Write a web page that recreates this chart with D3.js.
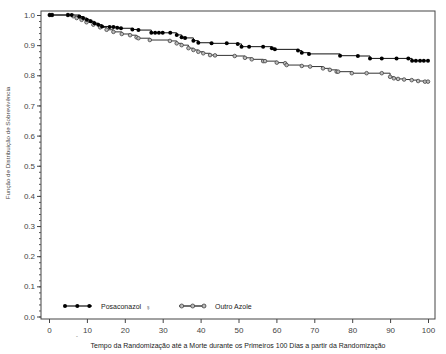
<!doctype html>
<html>
<head>
<meta charset="utf-8">
<script src="https://d3js.org/d3.v7.min.js"></script>
<style>
  body { margin: 0; background: #fff; }
  text { font-family: "Liberation Sans", Arial, sans-serif; }
</style>
</head>
<body>
<svg id="chart" width="446" height="354"></svg>
<script>
// Posaconazol: time (days) and survival at each marked point
const posaTimes = [0, 0.2, 0.8, 5, 6, 8, 9, 10, 11, 12, 13, 14, 16, 17, 18, 19, 22, 23.6, 27, 28, 29, 30, 32,
  33.7, 35, 35.9, 38.1, 39.4, 42.9, 46.9, 49.8, 50.8, 52.8, 56.5, 58.8, 59.6, 65.7, 66.7, 68.6,
  76.8, 81.5, 84.7, 87.8, 91.7, 94.8, 95.8, 96.8, 97.9, 98.9, 100];
const posaSurv = [1, 1, 1, 1, 1, 0.995, 0.99, 0.984, 0.979, 0.973, 0.968, 0.962, 0.96, 0.96, 0.958, 0.956, 0.952, 0.95, 0.941, 0.941, 0.941, 0.941, 0.941,
  0.934, 0.926, 0.924, 0.915, 0.908, 0.906, 0.906, 0.904, 0.895, 0.895, 0.895, 0.89, 0.886, 0.882, 0.875, 0.871,
  0.865, 0.864, 0.856, 0.856, 0.856, 0.856, 0.848, 0.848, 0.848, 0.848, 0.848];

// Outro Azole
const azoTimes = [0, 0.2, 0.8, 5, 6.4, 7.3, 8.6, 9.9, 11.7, 13.5, 15.2, 17, 19.2, 21.4, 23.1, 23.6, 26.6, 31.9,
  33.7, 35, 36.8, 38.1, 39.4, 40.7, 42.5, 43.8, 49, 51.7, 53.5, 56.5, 57, 60.1, 62.3, 62.7, 66.7, 68.9,
  72.3, 74.1, 75.9, 76.3, 79.9, 83.8, 87.8, 90, 91, 92.1, 93.7, 95.7, 97.4, 99.2, 100];
const azoSurv = [1, 1, 1, 1, 0.996, 0.99, 0.984, 0.976, 0.968, 0.959, 0.951, 0.944, 0.937, 0.933, 0.926, 0.923, 0.917, 0.914,
  0.906, 0.9, 0.89, 0.884, 0.878, 0.873, 0.867, 0.866, 0.864, 0.858, 0.853, 0.847, 0.847, 0.842, 0.84, 0.834, 0.831, 0.829,
  0.823, 0.818, 0.812, 0.812, 0.807, 0.807, 0.807, 0.795, 0.79, 0.788, 0.786, 0.784, 0.781, 0.779, 0.779];

const xTicks = [0, 10, 20, 30, 40, 50, 60, 70, 80, 90, 100];
const yTicks = [0, 0.1, 0.2, 0.3, 0.4, 0.5, 0.6, 0.7, 0.8, 0.9, 1.0];
const seriesNames = ["Posaconazol", "Outro Azole"];

const xLabel = "Tempo da Randomização até a Morte durante os Primeiros 100 Dias a partir da Randomização";
const yLabel = "Função de Distribuição de Sobrevivência";

const svg = d3.select("#chart");
const box = { left: 41, top: 11, right: 435, bottom: 319 };

const x = d3.scaleLinear().domain([0, 100]).range([49, 428]);
const y = d3.scaleLinear().domain([0, 1]).range([316.5, 15]);

// frame
svg.append("rect")
  .attr("x", box.left).attr("y", box.top)
  .attr("width", box.right - box.left).attr("height", box.bottom - box.top)
  .attr("fill", "none").attr("stroke", "#444").attr("stroke-width", 1);

// y axis with minor ticks
const yMinor = d3.range(0, 1.0001, 0.02);
svg.append("g").attr("transform", `translate(${box.left},0)`)
  .call(d3.axisLeft(y).tickValues(yMinor).tickSize(2).tickFormat(""))
  .call(g => g.select(".domain").remove())
  .call(g => g.selectAll("line").attr("stroke", "#555"));
svg.append("g").attr("transform", `translate(${box.left},0)`)
  .call(d3.axisLeft(y).tickValues(yTicks).tickSize(4).tickPadding(2).tickFormat(d3.format(".1f")))
  .call(g => g.select(".domain").remove())
  .call(g => g.selectAll("line").attr("stroke", "#444"))
  .call(g => g.selectAll("text").attr("font-size", 8).attr("fill", "#444")
    .attr("font-family", "Liberation Sans, Arial, sans-serif"));

// x axis
svg.append("g").attr("transform", `translate(0,${box.bottom})`)
  .call(d3.axisBottom(x).tickValues(xTicks).tickSize(4).tickPadding(4))
  .call(g => g.select(".domain").remove())
  .call(g => g.selectAll("line").attr("stroke", "#444"))
  .call(g => g.selectAll("text").attr("font-size", 8).attr("fill", "#444")
    .attr("font-family", "Liberation Sans, Arial, sans-serif"));

// labels
svg.append("text")
  .attr("transform", "translate(10,143) rotate(-90)")
  .attr("text-anchor", "middle")
  .attr("font-size", 6.2).attr("fill", "#444")
  .text(yLabel);

svg.append("text")
  .attr("x", 238).attr("y", 348)
  .attr("text-anchor", "middle")
  .attr("font-size", 7).attr("fill", "#222")
  .text(xLabel);

svg.append("text").attr("x", 76).attr("y", 340)
  .attr("font-size", 6).attr("fill", "#444").text("ˉ");

// curves
const line = d3.line().curve(d3.curveStepAfter).x(d => x(d.t)).y(d => y(d.s));
const posa = posaTimes.map((t, i) => ({ t: t, s: posaSurv[i] }));
const azo = azoTimes.map((t, i) => ({ t: t, s: azoSurv[i] }));

svg.append("path").datum(azo).attr("d", line)
  .attr("fill", "none").attr("stroke", "#333").attr("stroke-width", 1);
svg.append("path").datum(posa).attr("d", line)
  .attr("fill", "none").attr("stroke", "#111").attr("stroke-width", 1);

svg.append("g").selectAll("circle").data(azo.slice(1)).join("circle")
  .attr("cx", d => x(d.t)).attr("cy", d => y(d.s)).attr("r", 1.8)
  .attr("fill", "#bbb").attr("stroke", "#444").attr("stroke-width", 0.8);
svg.append("g").selectAll("circle").data(posa.slice(1)).join("circle")
  .attr("cx", d => x(d.t)).attr("cy", d => y(d.s)).attr("r", 2)
  .attr("fill", "#000");

// legend
const legY = 306;
const leg = [
  { name: seriesNames[0], x0: 64, x1: 92, marks: [65, 77.3, 89.3], tx: 101, filled: true },
  { name: seriesNames[1], x0: 179, x1: 206, marks: [181.7, 192.7, 204], tx: 215, filled: false }
];
leg.forEach(l => {
  svg.append("line").attr("x1", l.x0).attr("x2", l.x1).attr("y1", legY).attr("y2", legY)
    .attr("stroke", "#111").attr("stroke-width", 1.2);
  svg.append("g").selectAll("circle").data(l.marks).join("circle")
    .attr("cx", d => d).attr("cy", legY).attr("r", 2)
    .attr("fill", l.filled ? "#000" : "#bbb")
    .attr("stroke", l.filled ? "none" : "#444").attr("stroke-width", 0.8);
  svg.append("text").attr("x", l.tx).attr("y", legY + 2.5)
    .attr("font-size", 7).attr("fill", "#222").text(l.name);
});
svg.append("text").attr("x", 147).attr("y", 309)
  .attr("font-size", 5).attr("fill", "#666").text("ş");
</script>
</body>
</html>
